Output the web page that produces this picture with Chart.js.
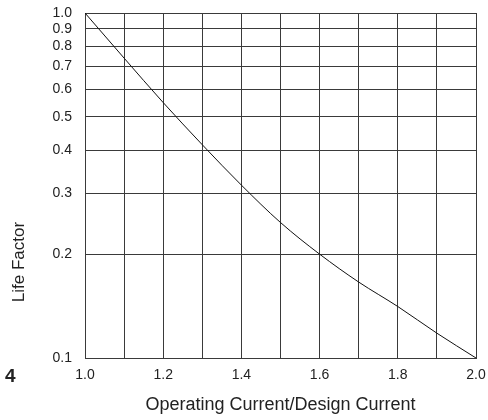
<!DOCTYPE html>
<html>
  <head>
    <title>Life Factor</title>
    <script src="https://cdn.jsdelivr.net/npm/chart.js"></script>
    <style>
      body { margin: 0; background: #fff; font-family: "Liberation Sans", Arial, sans-serif; }
      .wrap { position: relative; width: 488px; height: 420px; }
      .ylabel { position: absolute; left: 18px; top: 262px; transform: translate(-50%, -50%) rotate(-90deg);
                font-size: 17px; line-height: 1; color: #222; white-space: nowrap; }
      .pagenum { position: absolute; left: 5px; top: 366px; font-size: 19px; line-height: 1; font-weight: bold; color: #222; }
    </style>
  </head>
  <body>
    <div class="wrap">
      <canvas id="myChart" width="488" height="420"></canvas>
      <div class="ylabel">Life Factor</div>
      <div class="pagenum">4</div>
    </div>
  </body>
</html>
<script>
//------------------------------------------------------------------------------
// data
//------------------------------------------------------------------------------
var currentRatio = [1.0, 1.1, 1.2, 1.3, 1.4, 1.5, 1.6, 1.7, 1.8, 1.9, 2.0];
var lifeFactor   = [1.0, 0.74, 0.55, 0.415, 0.317, 0.247, 0.2, 0.166, 0.141, 0.118, 0.1];
var yTicks = [0.1, 0.2, 0.3, 0.4, 0.5, 0.6, 0.7, 0.8, 0.9, 1.0];
var xTicks = [1.0, 1.1, 1.2, 1.3, 1.4, 1.5, 1.6, 1.7, 1.8, 1.9, 2.0];
var xLabels = ['1.0', '', '1.2', '', '1.4', '', '1.6', '', '1.8', '', '2.0'];

//------------------------------------------------------------------------------
// chart
//------------------------------------------------------------------------------
var points = currentRatio.map(function(x, i) { return { x: x, y: lifeFactor[i] }; });
var gridColor = '#3a3a3a';
var textColor = '#222';

var ctx = document.getElementById('myChart').getContext('2d');
var chart = new Chart(ctx, {
  type: 'line',
  data: {
    datasets: [{
      data: points,
      borderColor: '#111',
      borderWidth: 1,
      pointRadius: 0,
      cubicInterpolationMode: 'monotone',
      fill: false
    }]
  },
  options: {
    responsive: false,
    animation: false,
    layout: { padding: { top: 13, right: 12, left: 0, bottom: 0 } },
    plugins: { legend: { display: false }, tooltip: { enabled: false } },
    scales: {
      x: {
        type: 'linear',
        min: 1.0,
        max: 2.0,
        afterBuildTicks: function(scale) {
          scale.ticks = xTicks.map(function(v) { return { value: v }; });
        },
        afterFit: function(scale) {
          scale.height = 62;
          scale.paddingLeft = 0;
          scale.paddingRight = 0;
        },
        ticks: {
          autoSkip: false,
          maxRotation: 0,
          padding: 9,
          color: textColor,
          font: { family: 'Liberation Sans', size: 14 },
          callback: function(value, index) { return xLabels[index]; }
        },
        grid: { color: gridColor, lineWidth: 1, drawTicks: false },
        border: { color: gridColor, width: 1 },
        title: {
          display: true,
          text: 'Operating Current/Design Current',
          color: textColor,
          font: { family: 'Liberation Sans', size: 18 },
          padding: { top: 4 }
        }
      },
      y: {
        type: 'logarithmic',
        min: 0.1,
        max: 1.0,
        afterBuildTicks: function(scale) {
          scale.ticks = yTicks.map(function(v) { return { value: v }; });
        },
        afterFit: function(scale) {
          scale.width = 85;
          scale.paddingTop = 0;
          scale.paddingBottom = 0;
        },
        ticks: {
          autoSkip: false,
          padding: 13,
          color: textColor,
          font: { family: 'Liberation Sans', size: 14 },
          callback: function(value) { return Number(value).toFixed(1); }
        },
        grid: { color: gridColor, lineWidth: 1, drawTicks: false },
        border: { color: gridColor, width: 1 }
      }
    }
  }
});
</script>
